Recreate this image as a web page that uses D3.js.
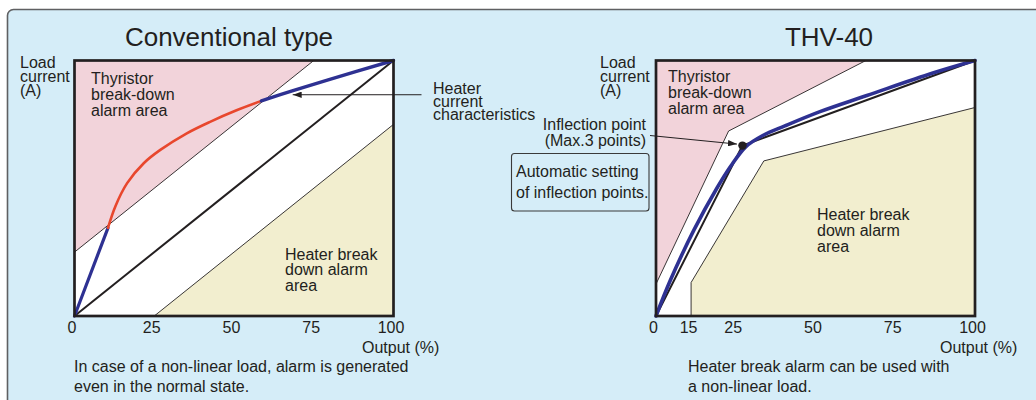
<!DOCTYPE html>
<html><head><meta charset="utf-8">
<script src="https://cdn.jsdelivr.net/npm/d3@7"></script>
<style>
body{margin:0;background:#fff}
svg{display:block;font-family:"Liberation Sans",Arial,sans-serif}
</style>
</head><body>
<svg id="c" width="1036" height="400"></svg>
<script>
// ---------- data ----------
const titles = ["Conventional type", "THV-40"];
const xTicksLeft = [0, 25, 50, 75, 100];
const xTicksRight = [0, 15, 25, 50, 75, 100];

// Conventional type (x: output %, y: load current % of full scale)
const leftPinkEdge = [[0, 25], [75, 100]];
const leftBeigeEdge = [[25, 0], [100, 75]];
const leftLinear = [[0, 0], [100, 100]];
const leftHeaterLow = [[0, 0], [10.5, 34.5]];
const leftHeaterMid = [[10.5, 34.5], [12.8, 42.9], [16.5, 52.0], [21.7, 59.8], [26.9, 65.0], [35.2, 71.5], [42.5, 76.0], [50.8, 80.5], [58.6, 84.2]];
const leftHeaterHigh = [[58.6, 84.2], [68.5, 88.2], [79, 92.2], [100, 100]];
const leftArrowTip = [68.4, 86.6];

// THV-40
const rightPinkEdge = [[0, 12.5], [23.4, 72.4], [65.8, 100]];
const rightBeigeEdge = [[15, 0], [15, 13.1], [33.8, 60.7], [100, 81.6]];
const rightLinear = [[0, 0], [27.1, 66.7], [100, 100]];
const rightInflection = [27.1, 66.7];
const rightHeater = [[0, 0], [6.0, 13.7], [15.65, 33.7], [20.8, 50.1], [23.9, 58.7], [28.2, 66.3], [33.2, 70.45], [40.4, 74.4], [51.4, 80.0], [66.1, 86.3], [86.8, 95.1], [100, 100]];

// ---------- style ----------
const C = {
  bg: "#d5edf8", border: "#5f6062", pink: "#f2d3da", beige: "#f2eecf",
  ink: "#231f20", blue: "#2e3192", red: "#e8472d"
};

const svg = d3.select("#c");
const defs = svg.append("defs");
defs.append("marker").attr("id", "ah").attr("viewBox", "0 0 10 7")
  .attr("refX", 10).attr("refY", 3.5).attr("markerWidth", 9).attr("markerHeight", 6.3)
  .attr("markerUnits", "userSpaceOnUse").attr("orient", "auto")
  .append("path").attr("d", "M0,0L10,3.5L0,7Z").attr("fill", C.ink);

svg.append("rect").attr("x", 7.5).attr("y", 9.5).attr("width", 1040).attr("height", 400)
  .attr("rx", 6).attr("fill", C.bg).attr("stroke", C.border).attr("stroke-width", 1.6);

function multiline(g, lines, x, y0, dy, opts = {}) {
  const t = g.append("text").attr("x", x).attr("y", y0)
    .attr("font-size", opts.size || 16).attr("fill", C.ink)
    .attr("text-anchor", opts.anchor || "start");
  lines.forEach((s, i) => t.append("tspan").attr("x", x).attr("y", y0 + i * dy).text(s));
  return t;
}

function panel(cfg) {
  const g = svg.append("g");
  const x = cfg.x, y = cfg.y;
  const [x0, x1] = [x.range()[0], x.range()[x.range().length - 1]];
  const [y0, y1] = y.range();
  const lin = d3.line().x(d => x(d[0])).y(d => y(d[1]));
  const closed = d3.line().x(d => x(d[0])).y(d => y(d[1])).curve(d3.curveLinearClosed);
  const smooth = d3.line().x(d => x(d[0])).y(d => y(d[1])).curve(d3.curveCatmullRom.alpha(0.5));

  g.append("rect").attr("x", x0).attr("y", y1).attr("width", x1 - x0).attr("height", y0 - y1).attr("fill", "#fff");
  g.append("path").attr("d", closed([...cfg.pinkEdge, [0, 100]])).attr("fill", C.pink);
  g.append("path").attr("d", closed([...cfg.beigeEdge, [100, 0]])).attr("fill", C.beige);
  g.append("path").attr("d", lin(cfg.pinkEdge)).attr("fill", "none").attr("stroke", C.ink).attr("stroke-width", 0.9);
  g.append("path").attr("d", lin(cfg.beigeEdge)).attr("fill", "none").attr("stroke", C.ink).attr("stroke-width", 0.9);
  g.append("path").attr("d", lin(cfg.linear)).attr("fill", "none").attr("stroke", C.ink).attr("stroke-width", 2);

  cfg.curves.forEach(c => {
    g.append("path").attr("d", (c.straight ? lin : smooth)(c.data)).attr("fill", "none")
      .attr("stroke", c.color).attr("stroke-width", c.width).attr("stroke-linecap", "round");
  });

  g.append("rect").attr("x", x0).attr("y", y1).attr("width", x1 - x0).attr("height", y0 - y1)
    .attr("fill", "none").attr("stroke", C.ink).attr("stroke-width", 2.7);

  const ax = g.append("g").attr("transform", `translate(0,${y0})`)
    .call(d3.axisBottom(x).tickValues(cfg.ticks).tickSize(0).tickPadding(6).tickFormat(d3.format("d")));
  ax.select(".domain").remove();
  ax.selectAll("text").attr("font-size", 16).attr("fill", C.ink).attr("dx", -3)
    .attr("font-family", '"Liberation Sans",Arial,sans-serif');

  g.append("text").attr("x", cfg.titleX).attr("y", 46).attr("text-anchor", "middle")
    .attr("font-size", 26).attr("fill", C.ink).text(cfg.title);
  multiline(g, ["Load", "current", "(A)"], cfg.loadX, 68, 14);
  multiline(g, ["Thyristor", "break-down", "alarm area"], cfg.thyX, cfg.thyY, 16);
  multiline(g, ["Heater break", "down alarm", "area"], cfg.heatX, cfg.heatY, 15.8);
  g.append("text").attr("x", cfg.outX).attr("y", 353).attr("font-size", 16).attr("fill", C.ink).text("Output (%)");
  multiline(g, cfg.footer, cfg.footX, 371.5, 20);
  return g;
}

// Conventional type
const xL = d3.scaleLinear().domain([0, 100]).range([74.5, 393.5]);
const yL = d3.scaleLinear().domain([0, 100]).range([316, 60.5]);
panel({
  x: xL, y: yL, ticks: xTicksLeft, title: titles[0], titleX: 229,
  pinkEdge: leftPinkEdge, beigeEdge: leftBeigeEdge, linear: leftLinear,
  curves: [
    { data: leftHeaterLow, color: C.blue, width: 3.2, straight: true },
    { data: leftHeaterMid, color: C.red, width: 2.6 },
    { data: leftHeaterHigh, color: C.blue, width: 3.4 }
  ],
  loadX: 20, thyX: 91, thyY: 83.5, heatX: 285, heatY: 259.5, outX: 362, footX: 74,
  footer: ["In case of a non-linear load, alarm is generated", "even in the normal state."]
});
svg.append("line").attr("x1", 421.5).attr("y1", yL(leftArrowTip[1])).attr("x2", xL(leftArrowTip[0])).attr("y2", yL(leftArrowTip[1]))
  .attr("stroke", C.ink).attr("stroke-width", 1).attr("marker-end", "url(#ah)");
multiline(svg, ["Heater", "current", "characteristics"], 433, 94, 12.8);

// THV-40 (the drawn axis is not linear below 25 %)
const xR = d3.scaleLinear().domain([0, 15, 25, 100]).range([656, 656 + 0.11 * 319, 656 + 0.25 * 319, 975]);
const yR = d3.scaleLinear().domain([0, 100]).range([316, 60.5]);
panel({
  x: xR, y: yR, ticks: xTicksRight, title: titles[1], titleX: 829,
  pinkEdge: rightPinkEdge, beigeEdge: rightBeigeEdge, linear: rightLinear,
  curves: [{ data: rightHeater, color: C.blue, width: 3.6 }],
  loadX: 600, thyX: 668, thyY: 81.5, heatX: 817, heatY: 220, outX: 940, footX: 688,
  footer: ["Heater break alarm can be used with", "a non-linear load."]
});
svg.append("circle").attr("cx", xR(rightInflection[0])).attr("cy", yR(rightInflection[1])).attr("r", 4.2).attr("fill", C.ink);
svg.append("line").attr("x1", 650).attr("y1", 135.5)
  .attr("x2", xR(rightInflection[0]) - 5.5).attr("y2", yR(rightInflection[1]) - 1.5)
  .attr("stroke", C.ink).attr("stroke-width", 1).attr("marker-end", "url(#ah)");
multiline(svg, ["Inflection point", "(Max.3 points)"], 646, 129.5, 16.3, { anchor: "end" });
svg.append("rect").attr("x", 511.5).attr("y", 153.5).attr("width", 137.5).attr("height", 57.5).attr("rx", 3)
  .attr("fill", "none").attr("stroke", "#3a3a3a").attr("stroke-width", 1.1);
multiline(svg, ["Automatic setting", "of inflection points."], 516, 177, 20.5);
</script>
</body></html>
